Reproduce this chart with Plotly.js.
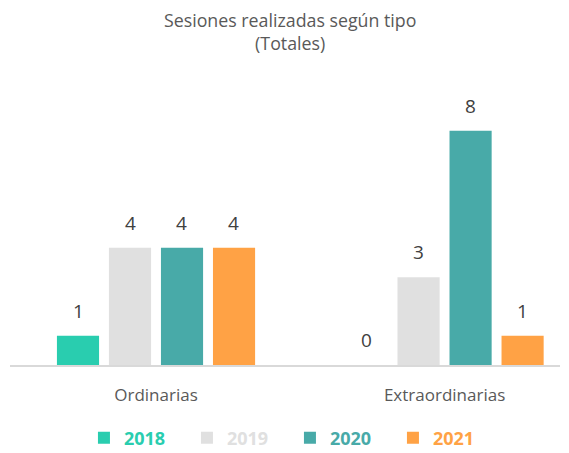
<!DOCTYPE html>
<html><head><meta charset="utf-8">
<script src="https://cdn.plot.ly/plotly-3.0.1.min.js"></script>
<style>html,body{margin:0;padding:0;background:#fff}</style>
</head><body><div id="chart" style="width:569px;height:453px"></div>
<script>
const categories = ["Ordinarias", "Extraordinarias"];
const years = ["2018", "2019", "2020", "2021"];
const values2018 = [1, 0];
const values2019 = [4, 3];
const values2020 = [4, 8];
const values2021 = [4, 1];
const colors = ["#29CDAF", "#E0E0E0", "#48AAA8", "#FFA245"];

const series = [values2018, values2019, values2020, values2021];
const FONT = "Open Sans, sans-serif";
const traces = series.map((vals, i) => ({
  type: "bar",
  x: categories,
  y: vals,
  name: '<b><span style="color:' + colors[i] + '">' + years[i] + '</span></b>',
  marker: {color: colors[i]},
  hoverinfo: "skip"
}));

const slot = 0.18;
const annotations = [];
series.forEach((vals, i) => {
  vals.forEach((v, j) => {
    annotations.push({
      x: j + (i - 1.5) * slot, y: v, xref: "x", yref: "y",
      text: String(v), showarrow: false, yanchor: "middle", yshift: 25,
      font: {family: FONT, size: 19, color: "#404040"}
    });
  });
});

const layout = {
  width: 569, height: 453,
  margin: {l: 10, r: 9, t: 80, b: 88, autoexpand: false},
  paper_bgcolor: "#fff", plot_bgcolor: "#fff",
  title: {text: "Sesiones realizadas según tipo<br>(Totales)", x: 0.51, xanchor: "center",
          yref: "container", y: 0.94, yanchor: "middle",
          font: {family: FONT, size: 17.8, color: "#595959"}},
  barmode: "group", bargap: 0.279, bargroupgap: 0.19,
  xaxis: {type: "category", range: [-0.506, 1.4], showgrid: false, zeroline: false,
          showline: true, linecolor: "#D9D9D9", linewidth: 1.5,
          ticks: "outside", ticklen: 14, tickcolor: "rgba(0,0,0,0)",
          tickfont: {family: FONT, size: 17, color: "#595959"}, fixedrange: true},
  yaxis: {range: [0, 9.73], visible: false, showgrid: false, zeroline: false, fixedrange: true},
  showlegend: true,
  legend: {orientation: "h", x: 0.509, xanchor: "center", y: -0.256, yanchor: "middle",
           entrywidth: 58, font: {family: FONT, size: 18}, itemclick: false},
  annotations: annotations
};
Plotly.newPlot("chart", traces, layout, {displayModeBar: false, staticPlot: true});
</script></body></html>
